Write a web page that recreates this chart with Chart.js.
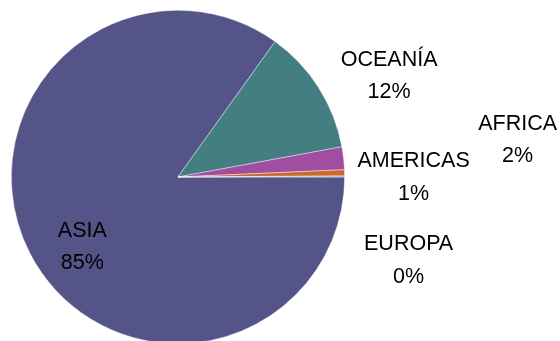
<!DOCTYPE html>
<html>
<head>
<meta charset="utf-8">
<script src="https://cdn.jsdelivr.net/npm/chart.js@4"></script>
<style>
  html, body { margin: 0; padding: 0; background: #ffffff; overflow: hidden; width: 560px; height: 341px; }
  canvas { display: block; }
</style>
</head>
<body>
<canvas id="c" width="560" height="360"></canvas>
<script>
// Data
const categories = ["ASIA", "OCEANÍA", "AFRICA", "AMERICAS", "EUROPA"];
const values = [84.9, 12.2, 2.2, 0.6, 0.1];
const sliceColors = ["#545489", "#437F81", "#A04DA2", "#CB6A2D", "#8EA9C9"];

// Label anchor positions, in units of the pie radius relative to its centre
// (first-line baseline); second line is placed below it.
const labelAnchors = [
  { dx: -0.574, dy: 0.358 },
  { dx: 1.267, dy: -0.668 },
  { dx: 2.038, dy: -0.284 },
  { dx: 1.414, dy: -0.061 },
  { dx: 1.384, dy: 0.438 }
];

const labelPlugin = {
  id: 'pieLabels',
  afterDatasetsDraw(chart) {
    const meta = chart.getDatasetMeta(0);
    const arc0 = meta.data[0];
    if (!arc0) return;
    const cx = arc0.x, cy = arc0.y, r = arc0.outerRadius;
    const data = chart.data.datasets[0].data;
    const total = data.reduce((a, b) => a + b, 0);
    const ctx = chart.ctx;
    ctx.save();
    ctx.font = '21.5px "Liberation Sans", Arial, sans-serif';
    ctx.fillStyle = '#000000';
    ctx.textAlign = 'center';
    ctx.textBaseline = 'alphabetic';
    const lineGap = 32.7;
    chart.data.labels.forEach((lab, i) => {
      const a = labelAnchors[i];
      const x = cx + a.dx * r;
      const y = cy + a.dy * r;
      const pct = Math.round(data[i] / total * 100) + '%';
      ctx.fillText(lab, x, y);
      ctx.fillText(pct, x, y + lineGap);
    });
    ctx.restore();
  }
};

new Chart(document.getElementById('c'), {
  type: 'pie',
  data: {
    labels: categories,
    datasets: [{
      data: values,
      backgroundColor: sliceColors,
      borderColor: 'rgba(255,255,255,0.55)',
      borderWidth: 0.75,
      hoverOffset: 0
    }]
  },
  options: {
    responsive: false,
    animation: false,
    devicePixelRatio: 1,
    events: [],
    rotation: 90,
    layout: { padding: { left: 11, top: 10, right: 215, bottom: 16 } },
    plugins: {
      legend: { display: false },
      tooltip: { enabled: false },
      title: { display: false }
    }
  },
  plugins: [labelPlugin]
});
</script>
</body>
</html>
